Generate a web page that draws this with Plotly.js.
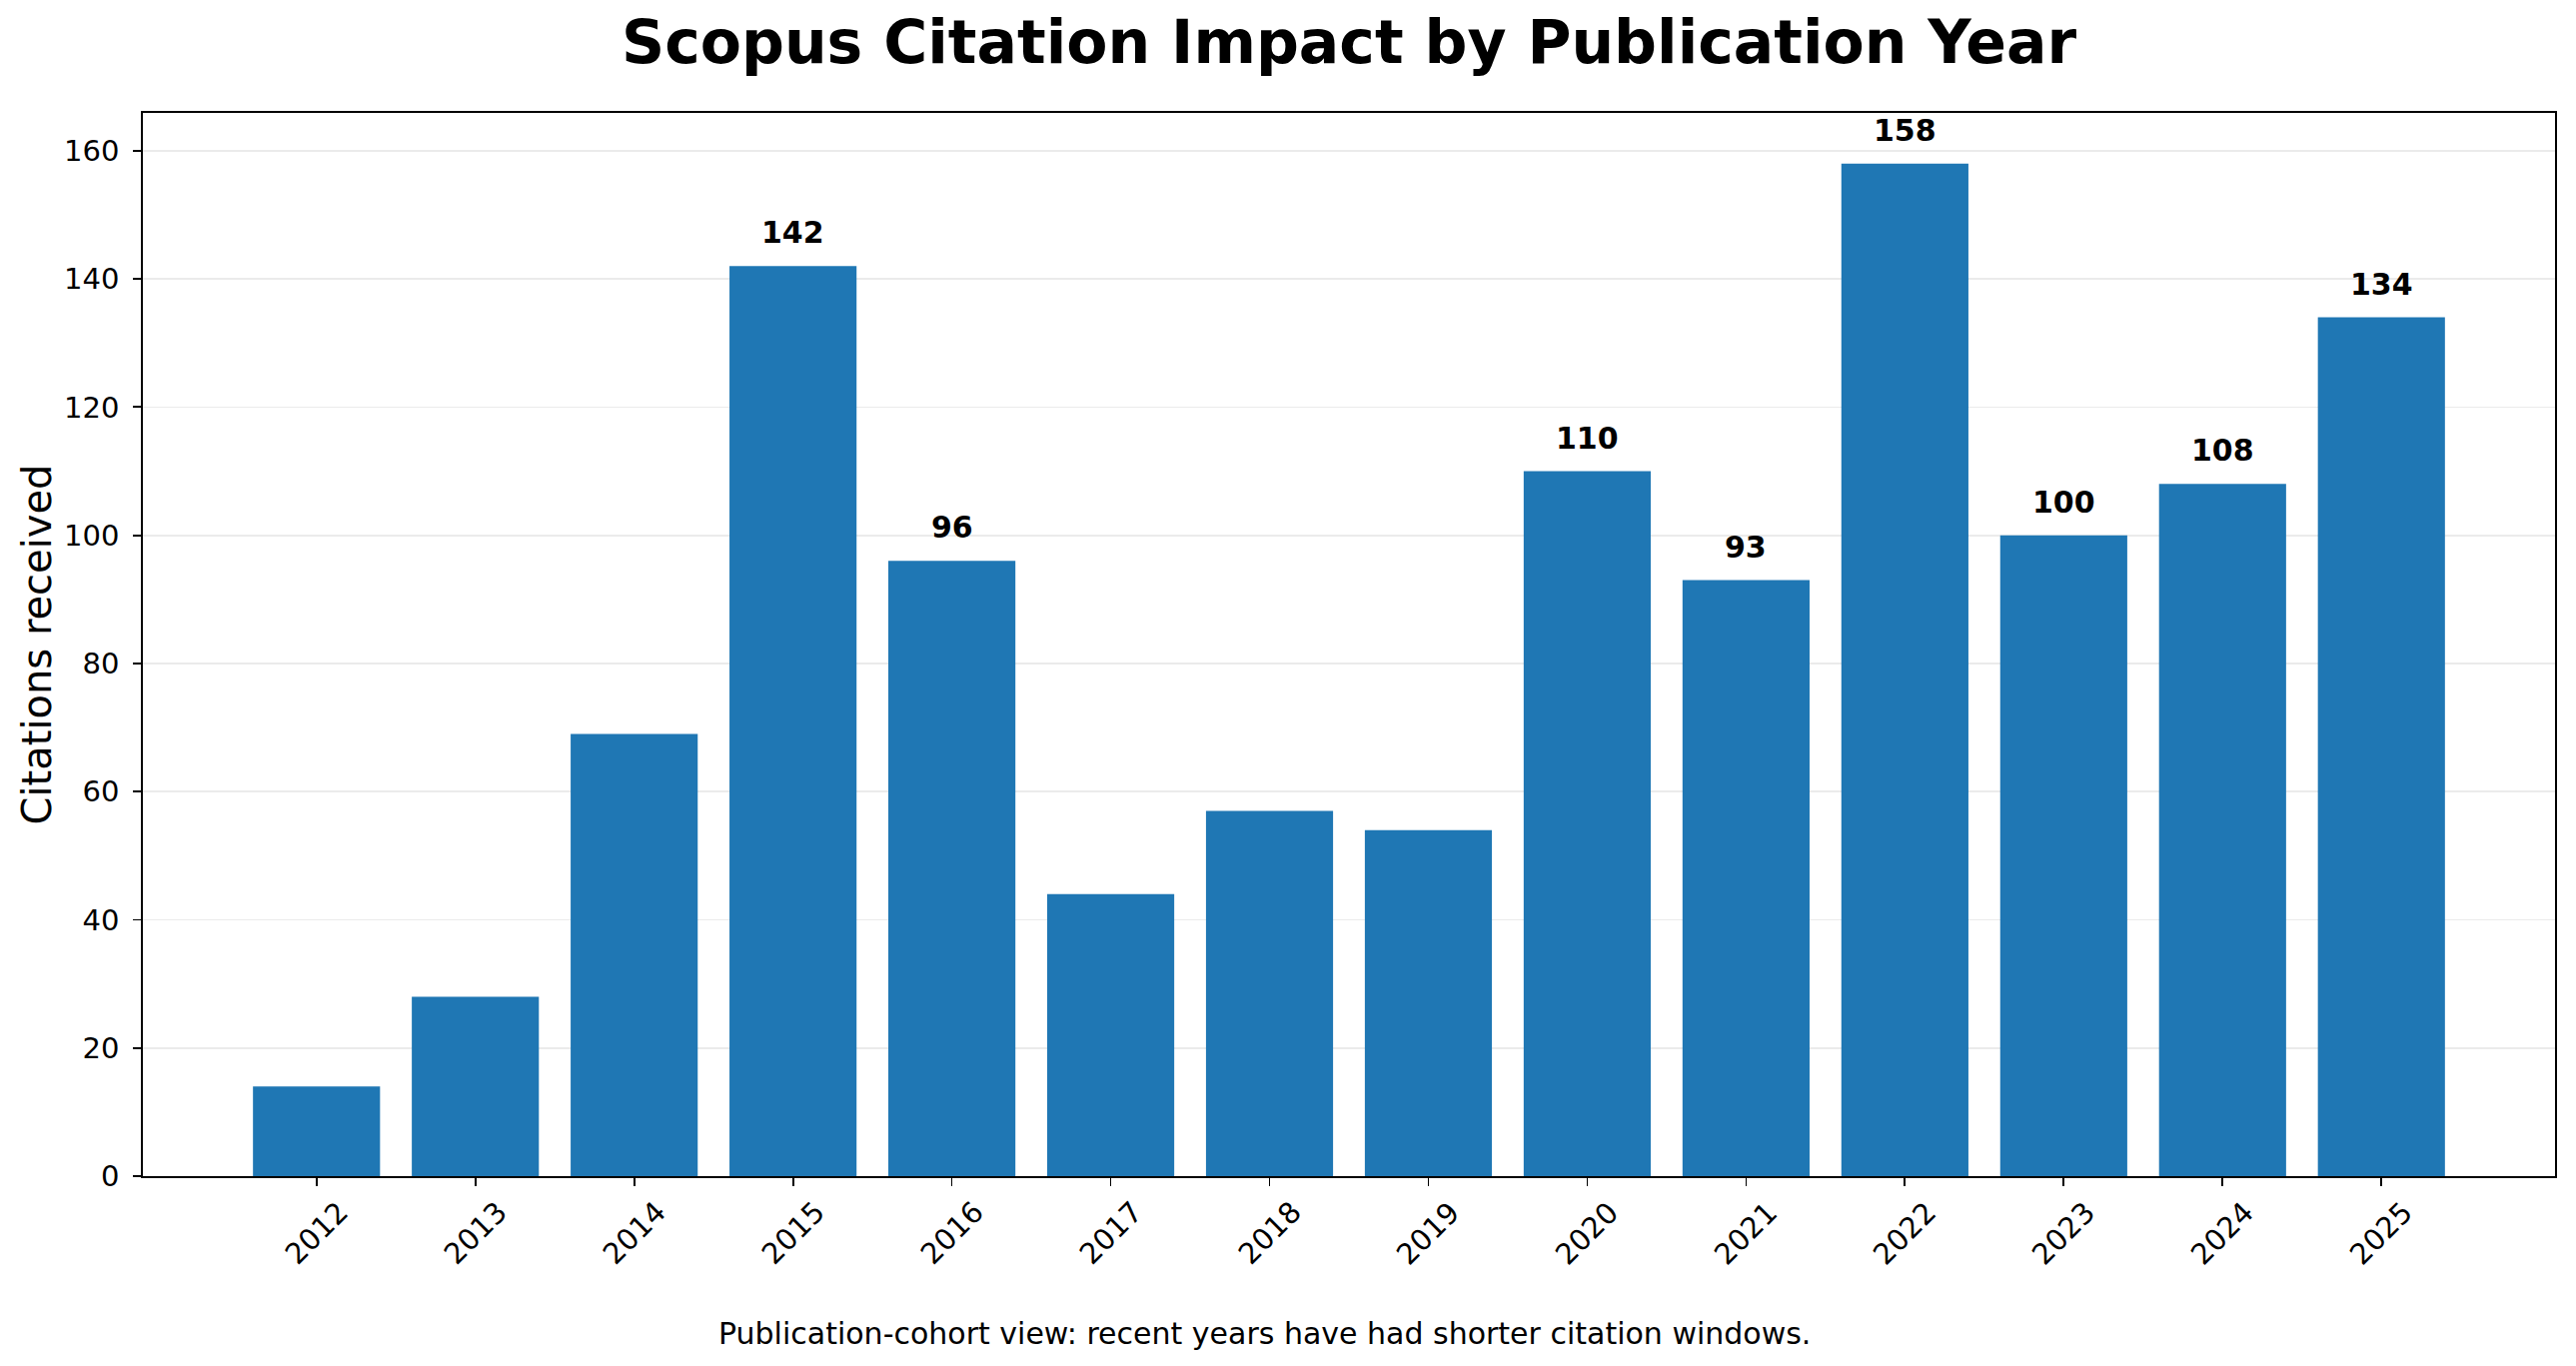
<!DOCTYPE html>
<html>
<head>
<meta charset="utf-8">
<script src="https://cdn.plot.ly/plotly-3.0.1.min.js"></script>
<style>
  html, body { margin: 0; padding: 0; background: #fff; }
  #chart { width: 2578px; height: 1367px; }
</style>
</head>
<body>
<div id="chart"></div>
<script>
const years = [2012, 2013, 2014, 2015, 2016, 2017, 2018, 2019, 2020, 2021, 2022, 2023, 2024, 2025];
const citations = [14, 28, 69, 142, 96, 44, 57, 54, 110, 93, 158, 100, 108, 134];
const yTicks = [0, 20, 40, 60, 80, 100, 120, 140, 160];
const labelMin = 90; // only the taller bars get a value label

const chartTitle = 'Scopus Citation Impact by Publication Year';
const yTitle = 'Citations received';
const footNote = 'Publication-cohort view: recent years have had shorter citation windows.';

const FONT = 'DejaVu Sans, Liberation Sans, sans-serif';

const trace = {
    type: 'bar',
    x: years,
    y: citations,
    marker: { color: '#1f77b4', line: { width: 0 } },
    hoverinfo: 'skip'
};

// value labels above the bars
const valueNotes = years
    .map((yr, i) => ({ yr: yr, v: citations[i] }))
    .filter(d => d.v >= labelMin)
    .map(d => ({
        x: d.yr, y: d.v, xref: 'x', yref: 'y',
        text: '<b>' + d.v + '</b>',
        showarrow: false, xanchor: 'center', yanchor: 'bottom', yshift: 14,
        font: { family: FONT, size: 30, color: '#000' }
    }));

// rotated year labels, centred on their ticks like matplotlib does
const yearNotes = years.map(yr => ({
    x: yr, y: 0, xref: 'x', yref: 'paper',
    text: String(yr), textangle: -45,
    showarrow: false, xanchor: 'center', yanchor: 'top', yshift: -16,
    font: { family: FONT, size: 29, color: '#000' }
}));

const footer = {
    x: 0.4652, y: -0.1667, xref: 'paper', yref: 'paper',
    text: footNote, showarrow: false, xanchor: 'center', yanchor: 'bottom',
    font: { family: FONT, size: 30, color: '#000' }
};

const layout = {
    width: 2578,
    height: 1367,
    margin: { l: 143, r: 21, t: 113, b: 190, pad: 0 },
    paper_bgcolor: '#fff',
    plot_bgcolor: '#fff',
    font: { family: FONT, color: '#000' },
    showlegend: false,
    bargap: 0.2,
    title: {
        text: '<b>' + chartTitle + '</b>',
        font: { family: FONT, size: 60, color: '#000' },
        xref: 'paper', x: 0.5, xanchor: 'center',
        yref: 'container', y: 0.9693, yanchor: 'middle'
    },
    xaxis: {
        range: [2010.907, 2026.093],
        tickvals: years,
        showticklabels: false,
        ticks: 'outside', ticklen: 8, tickwidth: 1.8, tickcolor: '#000',
        showline: true, mirror: true, linecolor: '#000', linewidth: 1.8,
        showgrid: false, zeroline: false
    },
    yaxis: {
        range: [0, 165.9],
        tickvals: yTicks,
        ticks: 'outside', ticklen: 8, tickwidth: 1.8, tickcolor: '#000',
        ticklabelstandoff: 8,
        tickfont: { family: FONT, size: 29, color: '#000' },
        showline: true, mirror: true, linecolor: '#000', linewidth: 1.8,
        showgrid: true, gridcolor: '#ebebeb', gridwidth: 1.7,
        zeroline: false,
        title: { text: yTitle, font: { family: FONT, size: 40, color: '#000' }, standoff: 0 }
    },
    annotations: valueNotes.concat(yearNotes, [footer])
};

Plotly.newPlot('chart', [trace], layout, { displayModeBar: false, staticPlot: true });
</script>
</body>
</html>
